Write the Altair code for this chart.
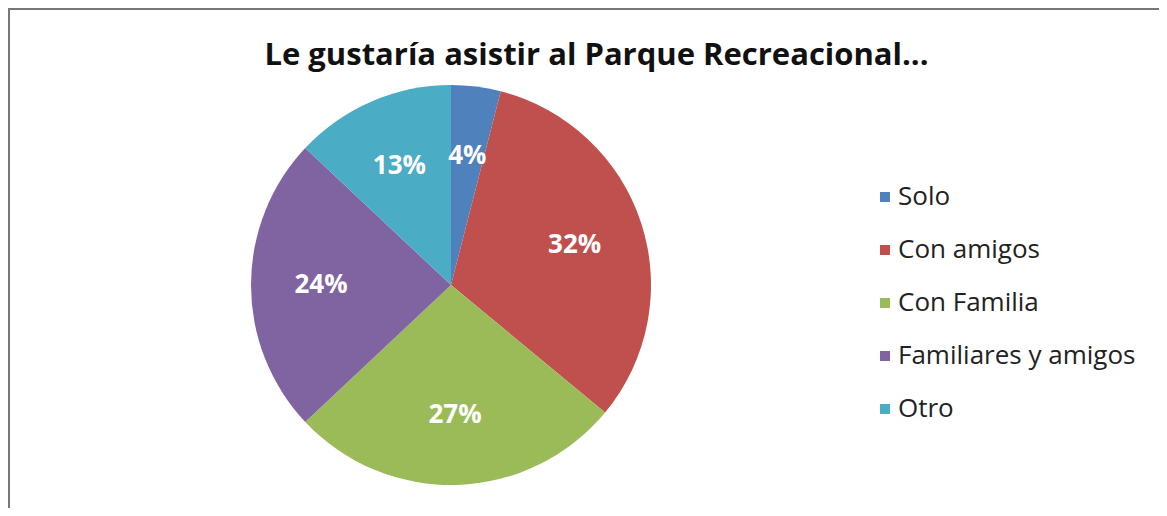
import altair as alt
import pandas as pd

categories = ["Solo", "Con amigos", "Con Familia", "Familiares y amigos", "Otro"]
values = [4, 32, 27, 24, 13]
labels = ["4%", "32%", "27%", "24%", "13%"]
colors = ["#4F81BD", "#C0504D", "#9BBB59", "#8064A2", "#4BACC6"]

df = pd.DataFrame({
    "cat": categories,
    "val": values,
    "lab": labels,
    "ord": list(range(len(categories))),
})

CX, CY, R = 443, 277, 200
FONT = "Open Sans"

base = alt.Chart(df).encode(
    theta=alt.Theta("val:Q", stack=True),
    order=alt.Order("ord:Q"),
)

pie = base.mark_arc(x=CX, y=CY, outerRadius=R, strokeWidth=0).encode(
    color=alt.Color(
        "cat:N",
        scale=alt.Scale(domain=categories, range=colors),
        sort=categories,
        legend=alt.Legend(
            title=None,
            orient="none",
            legendX=864,
            legendY=176,
            symbolType="square",
            symbolSize=100,
            symbolStrokeWidth=0,
            labelFont=FONT,
            labelFontSize=26,
            labelColor="#222222",
            labelOffset=0,
            labelLimit=400,
            rowPadding=27,
        ),
    )
)

text = base.mark_text(
    x=CX, y=CY, radius=130, font=FONT, fontSize=26, fontWeight="bold", color="white"
).encode(text="lab:N")

border_top = alt.Chart(df).mark_rule(color="#777777", strokeWidth=2).encode(
    x=alt.value(0), x2=alt.value(1151), y=alt.value(1)
)
border_left = alt.Chart(df).mark_rule(color="#777777", strokeWidth=2).encode(
    x=alt.value(1), y=alt.value(0), y2=alt.value(500)
)

chart = alt.layer(pie, text, border_top, border_left).properties(
    width=1151,
    height=500,
    autosize=alt.AutoSizeParams(type="none"),
    padding=0,
    title=alt.TitleParams(
        "Le gustaría asistir al Parque Recreacional...",
        font=FONT,
        fontSize=31,
        fontWeight="bold",
        color="#111111",
        anchor="middle",
        dx=13,
        dy=65,
        offset=0,
    ),
).configure_view(stroke=None).configure(background="white")

chart.save("out.html", embed_options={"renderer": "svg", "actions": False})
